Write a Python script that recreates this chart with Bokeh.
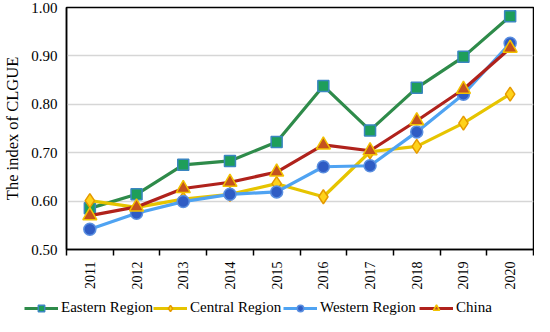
import math
from bokeh.plotting import figure
from bokeh.models import Range1d, FixedTicker, Legend, LegendItem, NumeralTickFormatter
from bokeh.embed import file_html
from bokeh.resources import INLINE

years = ["2011", "2012", "2013", "2014", "2015", "2016", "2017", "2018", "2019", "2020"]
eastern = [0.585, 0.614, 0.675, 0.683, 0.722, 0.838, 0.746, 0.834, 0.898, 0.982]
central = [0.601, 0.587, 0.604, 0.614, 0.636, 0.609, 0.702, 0.713, 0.761, 0.821]
western = [0.542, 0.575, 0.599, 0.614, 0.619, 0.671, 0.673, 0.743, 0.821, 0.926]
china = [0.570, 0.588, 0.626, 0.639, 0.660, 0.716, 0.704, 0.766, 0.831, 0.916]
y_ticks = [0.5, 0.6, 0.7, 0.8, 0.9, 1.0]

x = [i + 0.5 for i in range(len(years))]
SERIF = "'Liberation Serif'"

p = figure(width=534, height=292, output_backend="svg", toolbar_location=None,
           x_range=Range1d(0, len(years)), y_range=Range1d(0.5, 1.0),
           min_border_left=57, min_border_right=1, min_border_top=7, min_border_bottom=40)
p.outline_line_color = "black"
p.outline_line_width = 1.5
p.xgrid.visible = False
p.ygrid.grid_line_color = "#D6D6D6"
p.ygrid.grid_line_width = 1.5

p.xaxis.ticker = FixedTicker(ticks=x, minor_ticks=list(range(len(years) + 1)))
p.xaxis.major_label_overrides = {xx: y for xx, y in zip(x, years)}
p.xaxis.major_label_orientation = math.pi / 2
p.xaxis.major_tick_line_color = None
p.xaxis.minor_tick_line_color = "black"
p.xaxis.minor_tick_line_width = 1.5
p.xaxis.minor_tick_out = 6
p.xaxis.minor_tick_in = 0
p.xaxis.axis_line_color = "black"
p.xaxis.axis_line_width = 1.5
p.xaxis.major_label_text_font = SERIF
p.xaxis.major_label_text_font_size = "14px"
p.xaxis.major_label_text_color = "black"
p.xaxis.major_label_standoff = 6

p.yaxis.ticker = FixedTicker(ticks=y_ticks)
p.yaxis.formatter = NumeralTickFormatter(format="0.00")
p.yaxis.major_tick_line_color = None
p.yaxis.minor_tick_line_color = None
p.yaxis.axis_line_color = "black"
p.yaxis.axis_line_width = 1.5
p.yaxis.major_label_text_font = SERIF
p.yaxis.major_label_text_font_size = "15px"
p.yaxis.major_label_text_color = "black"
p.yaxis.major_label_standoff = 3
p.yaxis.axis_label = "The index of CLGUE"
p.yaxis.axis_label_text_font = SERIF
p.yaxis.axis_label_text_font_size = "16.5px"
p.yaxis.axis_label_text_font_style = "normal"
p.yaxis.axis_label_text_color = "black"
p.yaxis.axis_label_standoff = 6

series = [
    ("Eastern Region", eastern, "#2E8B4A", "square", "#1E9E5A", "#3A86C0", 11),
    ("Central Region", central, "#E6C400", "diamond", "#FFD21A", "#E59A00", 14),
    ("Western Region", western, "#4FA3F2", "circle", "#2F5CC4", "#5A8FE0", 12),
    ("China", china, "#B0221C", "triangle", "#C4521E", "#F2C200", 14),
]
legend_x = [24, 153, 283, 419]

# legend strip below the chart (separate root); its ranges keep the series' points out of view
lg = figure(width=534, height=24, output_backend="svg", toolbar_location=None,
            x_axis_type=None, y_axis_type=None, x_range=Range1d(100, 101), y_range=Range1d(100, 101),
            min_border_left=0, min_border_right=0, min_border_top=0, min_border_bottom=0)
lg.outline_line_color = None
lg.xgrid.visible = False
lg.ygrid.visible = False

for (name, vals, lc, marker, fc, ec, sz), lx in zip(series, legend_x):
    p.line(x, vals, line_color=lc, line_width=3.2, line_join="round")
    p.scatter(x, vals, marker=marker, size=sz, fill_color=fc, line_color=ec, line_width=1.5)
    l2 = lg.line(x, vals, line_color=lc, line_width=3.2)
    s2 = lg.scatter(x, vals, marker=marker, size=sz - 2, fill_color=fc, line_color=ec, line_width=1.5)
    leg = Legend(items=[LegendItem(label=name, renderers=[l2, s2])], location=(lx, 0),
                 label_text_font=SERIF, label_text_font_size="15px", label_text_color="black",
                 glyph_width=34, glyph_height=16, label_height=16, label_standoff=3,
                 padding=0, margin=0, border_line_color=None, background_fill_alpha=0)
    lg.add_layout(leg, "center")

open("out.html", "w").write(file_html([p, lg], INLINE))
